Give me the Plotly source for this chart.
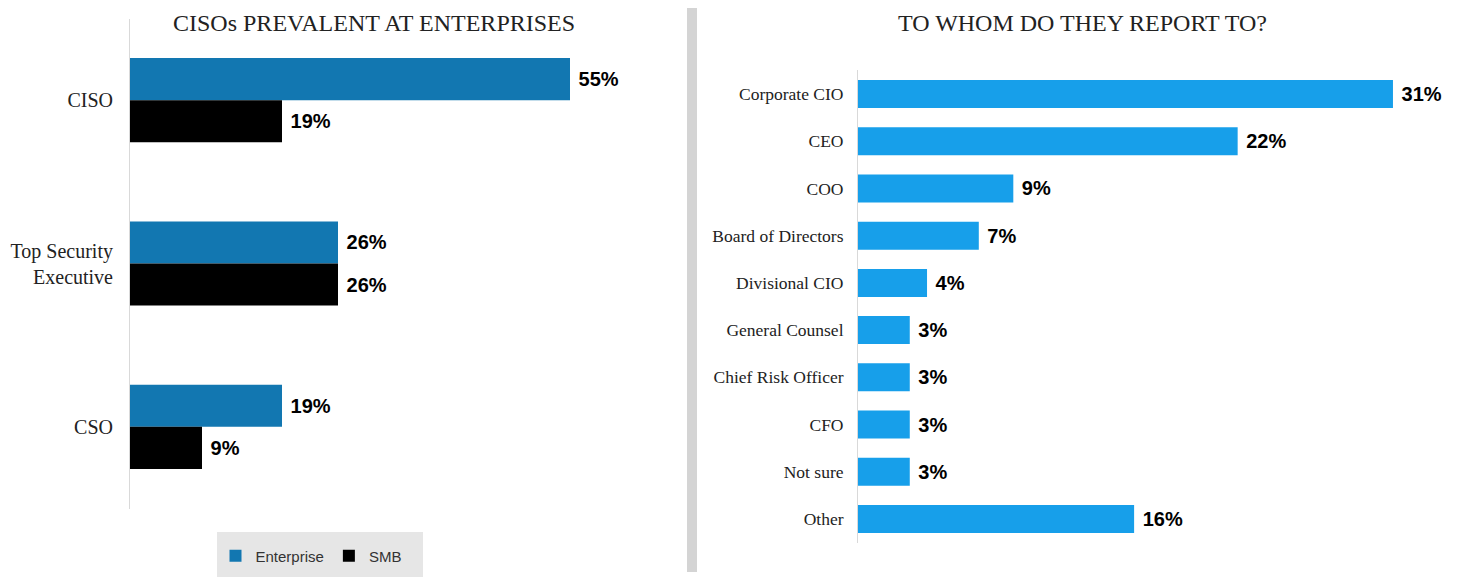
import plotly.graph_objects as go

W, H = 1463, 577
OX, OY = 8, 8  # page body margin offset

# Left chart data
left_categories = ["CISO", "Top Security<br>Executive", "CSO"]
enterprise_values = [55, 26, 19]
smb_values = [19, 26, 9]

# Right chart data
right_categories = ["Corporate CIO", "CEO", "COO", "Board of Directors", "Divisional CIO",
                    "General Counsel", "Chief Risk Officer", "CFO", "Not sure", "Other"]
right_values = [31, 22, 9, 7, 4, 3, 3, 3, 3, 16]

ENT_COLOR = "#1277b1"
SMB_COLOR = "#000000"
RIGHT_COLOR = "#179fea"
SERIF = "Liberation Serif, Georgia, serif"
SANS = "Liberation Sans, Arial, sans-serif"
LABEL_TMPL = "\u00a0%{x}%"
LABEL_FONT = dict(family=SANS, size=20, color="#000", weight="bold")


def px_x(x):
    return (x - OX) / W


def px_y(y):
    return (H - (y - OY)) / H


fig = go.Figure()

fig.add_trace(go.Bar(
    name="Enterprise", y=left_categories, x=enterprise_values, orientation="h",
    marker=dict(color=ENT_COLOR, line=dict(width=0)),
    texttemplate=LABEL_TMPL, textposition="outside", cliponaxis=False, constraintext="none",
    textfont=LABEL_FONT, xaxis="x", yaxis="y", hoverinfo="skip",
))
fig.add_trace(go.Bar(
    name="SMB", y=left_categories, x=smb_values, orientation="h",
    marker=dict(color=SMB_COLOR, line=dict(width=0)),
    texttemplate=LABEL_TMPL, textposition="outside", cliponaxis=False, constraintext="none",
    textfont=LABEL_FONT, xaxis="x", yaxis="y", hoverinfo="skip",
))
fig.add_trace(go.Bar(
    name="Reports to", y=right_categories, x=right_values, orientation="h",
    marker=dict(color=RIGHT_COLOR, line=dict(width=0)), width=0.593,
    texttemplate=LABEL_TMPL, textposition="outside", cliponaxis=False, constraintext="none",
    textfont=LABEL_FONT, xaxis="x2", yaxis="y2", showlegend=False, hoverinfo="skip",
))

fig.update_layout(
    width=W, height=H,
    margin=dict(l=0, r=0, t=0, b=0),
    paper_bgcolor="white", plot_bgcolor="white",
    barmode="group", bargap=0.485, bargroupgap=0,
    showlegend=True,
    legend=dict(orientation="h", x=px_x(311), y=px_y(556), xanchor="center", yanchor="middle",
                bgcolor="rgba(0,0,0,0)", font=dict(family=SANS, size=15, color="#333"),
                itemwidth=30, traceorder="normal"),
    xaxis=dict(domain=[px_x(130), px_x(650)], range=[0, 65], showgrid=False, zeroline=False,
               showticklabels=False, showline=False, fixedrange=True),
    yaxis=dict(domain=[px_y(508.5), px_y(18.5)], autorange="reversed", showgrid=False,
               showline=True, linecolor="#d9d9d9", linewidth=1, automargin=False,
               ticklabelstandoff=12,
               tickfont=dict(family=SERIF, size=20, color="#222")),
    xaxis2=dict(domain=[px_x(858), px_x(1462)], range=[0, 35], showgrid=False, zeroline=False,
                showticklabels=False, showline=False, anchor="y2"),
    yaxis2=dict(domain=[px_y(542.6), px_y(70.4)], autorange="reversed", showgrid=False,
                showline=True, linecolor="#d9d9d9", linewidth=1, anchor="x2", automargin=False,
                ticklabelstandoff=10,
                tickfont=dict(family=SERIF, size=17.5, color="#222")),
    shapes=[
        dict(type="rect", xref="paper", yref="paper", x0=px_x(217), x1=px_x(423),
             y0=px_y(577), y1=px_y(532), fillcolor="#e6e6e6", line=dict(width=0), layer="below"),
        dict(type="rect", xref="paper", yref="paper", x0=px_x(687), x1=px_x(697),
             y0=px_y(572), y1=px_y(5), fillcolor="#d4d4d4", line=dict(width=0), layer="below"),
    ],
    annotations=[
        dict(text="CISOs PREVALENT AT ENTERPRISES", xref="paper", yref="paper",
             x=px_x(374), y=1.0, xanchor="center", yanchor="top", showarrow=False,
             font=dict(family=SERIF, size=24, color="#222")),
        dict(text="TO WHOM DO THEY REPORT TO?", xref="paper", yref="paper",
             x=px_x(1082), y=1.0, xanchor="center", yanchor="top", showarrow=False,
             font=dict(family=SERIF, size=24, color="#222")),
    ],
)

fig.write_html("out.html")
